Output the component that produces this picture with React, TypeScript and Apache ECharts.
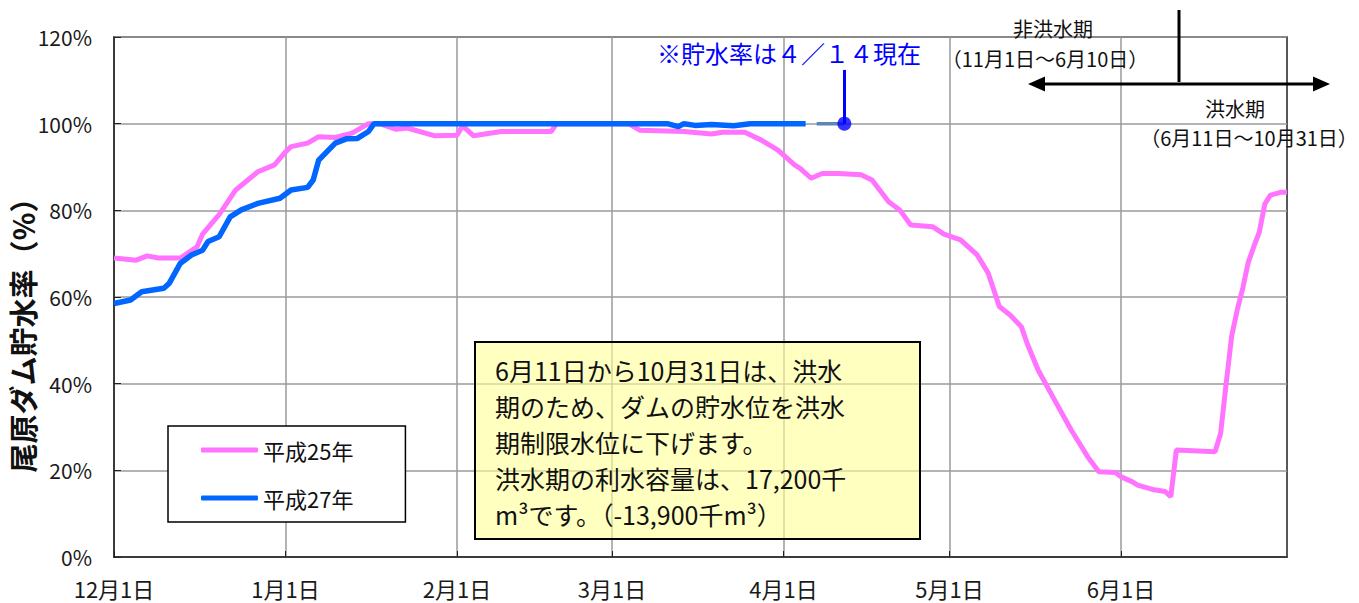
import React, { useEffect, useRef } from "react";
import * as echarts from "echarts";

// Categories: daily from Dec 1 to Jul 1 (non-leap)
const MONTHS: [number, number][] = [[12, 31], [1, 31], [2, 28], [3, 31], [4, 30], [5, 31], [6, 30]];
const categories: string[] = [];
MONTHS.forEach(([m, n]) => {
  for (let d = 1; d <= n; d++) categories.push(`${String(m).padStart(2, "0")}-${String(d).padStart(2, "0")}`);
});
categories.push("07-01");

const yTicks = [0, 20, 40, 60, 80, 100, 120];

// 平成25年 (pink)
const h25: [string, number][] = [
  ["12-01", 69], ["12-05", 68.5], ["12-07", 69.5], ["12-09", 69], ["12-13", 69],
  ["12-16", 71.6], ["12-17", 74.5], ["12-20", 79], ["12-23", 84.7], ["12-27", 88.9],
  ["12-30", 90.5], ["01-01", 93.5], ["01-02", 94.7], ["01-05", 95.5], ["01-07", 97],
  ["01-10", 96.8], ["01-13", 97.8], ["01-16", 100], ["01-18", 100], ["01-21", 98.7],
  ["01-23", 99], ["01-28", 97.2], ["02-01", 97.3], ["02-02", 99.5], ["02-04", 97.2],
  ["02-09", 98.2], ["02-18", 98.2], ["02-19", 100], ["03-04", 100], ["03-06", 98.5],
  ["03-14", 98.2], ["03-19", 97.6], ["03-21", 98], ["03-25", 98], ["03-28", 96.2],
  ["03-31", 93.9], ["04-03", 90.5], ["04-04", 89.7], ["04-06", 87.4], ["04-08", 88.5],
  ["04-11", 88.5], ["04-15", 88.2], ["04-17", 87], ["04-20", 82], ["04-22", 80.1],
  ["04-24", 76.6], ["04-28", 76.2], ["04-30", 74.5], ["05-03", 73.2], ["05-06", 69.7],
  ["05-08", 65.5], ["05-10", 57.8], ["05-12", 55.8], ["05-14", 53.1], ["05-15", 49.4],
  ["05-17", 43.2], ["05-20", 36.2], ["05-23", 29.3], ["05-26", 23.1], ["05-28", 19.7],
  ["05-31", 19.5], ["06-01", 18.5], ["06-03", 17.4], ["06-04", 16.6], ["06-07", 15.5],
  ["06-09", 15.1], ["06-10", 13.9], ["06-11", 24.7], ["06-18", 24.3], ["06-19", 28.5],
  ["06-20", 40], ["06-21", 51], ["06-22", 57], ["06-23", 62], ["06-24", 68],
  ["06-25", 71.6], ["06-26", 75], ["06-27", 81.5], ["06-28", 83.5], ["06-30", 84.2],
  ["07-01", 84.2],
];

// 平成27年 (blue)
const h27: [string, number][] = [
  ["12-01", 58.5], ["12-04", 59.3], ["12-06", 61.2], ["12-10", 62], ["12-11", 63.2],
  ["12-13", 67.8], ["12-15", 69.7], ["12-17", 70.8], ["12-18", 72.8], ["12-20", 73.9],
  ["12-22", 78.5], ["12-24", 80.1], ["12-27", 81.6], ["12-31", 82.8], ["01-02", 84.7],
  ["01-05", 85.3], ["01-06", 87], ["01-07", 91.6], ["01-10", 95.5], ["01-12", 96.5],
  ["01-14", 96.6], ["01-16", 98.2], ["01-17", 100], ["03-11", 100], ["03-13", 99.3],
  ["03-14", 100], ["03-16", 99.6], ["03-19", 99.8], ["03-23", 99.5], ["03-26", 100],
  ["04-05", 100],
];

// connector to current value marker
const current: [string, number][] = [["04-07", 100], ["04-12", 100]];
const currentPoint: [string, number][] = [["04-12", 100]];
const currentLabelTop = 112.4;

const noteLines = [
  "6月11日から10月31日は、洪水",
  "期のため、ダムの貯水位を洪水",
  "期制限水位に下げます。",
  "洪水期の利水容量は、17,200千",
  "m³です。（-13,900千m³）",
];

const FONT = "'Noto Sans CJK JP', 'Noto Sans', sans-serif";

const isMonthStart = (_i: number, v: string) => v.endsWith("-01") && v !== "07-01";
const fmtDate = (v: string) => {
  const [m, d] = v.split("-");
  return `${+m}月${+d}日`;
};

export default function App() {
  const ref = useRef<HTMLDivElement>(null);
  useEffect(() => {
    if (!ref.current) return;
    const chart = echarts.init(ref.current, undefined, { renderer: "svg" });
    chart.setOption({
      animation: false,
      backgroundColor: "#ffffff",
      grid: {
        left: 114, top: 37, right: 72, bottom: 46,
        show: true, borderColor: "#222", borderWidth: 1.5, containLabel: false,
      },
      legend: {
        data: ["平成25年", "平成27年"],
        orient: "vertical",
        left: 168, top: 426,
        padding: [13, 52, 13, 33],
        itemGap: 26,
        itemWidth: 57, itemHeight: 5,
        icon: "roundRect",
        itemTextGap: 6,
        backgroundColor: "#ffffff",
        borderColor: "#000",
        borderWidth: 1.5,
        textStyle: { fontSize: 22, fontFamily: FONT, color: "#111", lineHeight: 20 },
      },
      xAxis: {
        type: "category",
        data: categories,
        boundaryGap: false,
        axisLine: { lineStyle: { color: "#222", width: 1.5 } },
        axisTick: { inside: true, length: 6, interval: isMonthStart, lineStyle: { color: "#222" } },
        axisLabel: {
          interval: isMonthStart, formatter: fmtDate, margin: 20,
          fontSize: 22, fontFamily: FONT, color: "#1a1a1a",
        },
        splitLine: { show: true, interval: isMonthStart, lineStyle: { color: "#9a9a9a", width: 1.5 } },
      },
      yAxis: {
        type: "value",
        min: yTicks[0], max: yTicks[yTicks.length - 1], interval: 20,
        axisLine: { show: true, lineStyle: { color: "#222", width: 1.5 } },
        axisTick: { show: true, inside: true, length: 7, lineStyle: { color: "#222" } },
        axisLabel: { formatter: "{value}%", margin: 22, fontSize: 21, fontFamily: FONT, color: "#1a1a1a" },
        splitLine: { show: true, lineStyle: { color: "#9a9a9a", width: 1.5 } },
      },
      series: [
        {
          name: "平成25年", type: "line", data: h25, symbol: "none",
          lineStyle: { color: "#ff73ff", width: 5 }, itemStyle: { color: "#ff73ff" }, z: 2,
        },
        {
          name: "平成27年", type: "line", data: h27, symbol: "none",
          lineStyle: { color: "#0066ff", width: 5.5 }, itemStyle: { color: "#0066ff" }, z: 3,
        },
        {
          name: "current", type: "line", data: current, symbol: "none",
          lineStyle: { color: "#5b86b5", width: 3.5 }, z: 3,
          markLine: {
            silent: true, symbol: "none", label: { show: false },
            lineStyle: { color: "#0000ff", width: 3, type: "solid" },
            data: [[{ coord: [currentPoint[0][0], currentPoint[0][1]] }, { coord: [currentPoint[0][0], currentLabelTop] }]],
          },
        },
        {
          name: "currentPoint", type: "scatter", data: currentPoint, symbolSize: 14,
          itemStyle: { color: "#0000ff" }, z: 5,
        },
      ],
      graphic: [
        {
          type: "text", left: 657, top: 40, z: 10,
          style: { text: "※貯水率は４／１４現在", fill: "#0000ff", fontSize: 24, fontFamily: FONT },
        },
        {
          type: "text", x: 1053, y: 28, z: 10,
          style: { text: "非洪水期", fill: "#111", fontSize: 20, fontFamily: FONT, align: "center", verticalAlign: "middle" },
        },
        {
          type: "text", x: 1045, y: 58, z: 10,
          style: { text: "（11月1日～6月10日）", fill: "#111", fontSize: 20, fontFamily: FONT, align: "center", verticalAlign: "middle" },
        },
        {
          type: "text", x: 1235, y: 108, z: 10,
          style: { text: "洪水期", fill: "#111", fontSize: 20, fontFamily: FONT, align: "center", verticalAlign: "middle" },
        },
        {
          type: "text", x: 1249, y: 137, z: 10,
          style: { text: "（6月11日～10月31日）", fill: "#111", fontSize: 20, fontFamily: FONT, align: "center", verticalAlign: "middle" },
        },
        { type: "line", z: 10, shape: { x1: 1179, y1: 10, x2: 1179, y2: 82 }, style: { stroke: "#000", lineWidth: 3 } },
        { type: "line", z: 10, shape: { x1: 1040, y1: 84, x2: 1318, y2: 84 }, style: { stroke: "#000", lineWidth: 3 } },
        { type: "polygon", z: 10, shape: { points: [[1028, 84], [1045, 76.5], [1045, 91.5]] }, style: { fill: "#000" } },
        { type: "polygon", z: 10, shape: { points: [[1330, 84], [1313, 76.5], [1313, 91.5]] }, style: { fill: "#000" } },
        {
          type: "rect", z: 10, shape: { x: 475, y: 342, width: 445, height: 197 },
          style: { fill: "rgba(255,255,150,0.6)", stroke: "#000", lineWidth: 2 },
        },
        ...noteLines.map((t, i) => ({
          type: "text", z: 11, x: 495, y: 370 + i * 36,
          style: { text: t, fill: "#111", fontSize: 25, fontFamily: FONT, verticalAlign: "middle" },
        })),
        {
          type: "text", z: 10, x: 22, y: 328, rotation: Math.PI / 2,
          style: {
            text: "尾原ダム貯水率（%）", fill: "#111", fontSize: 29, fontWeight: "bold",
            fontFamily: FONT, align: "center", verticalAlign: "middle",
          },
        },
      ],
    });
    return () => chart.dispose();
  }, []);
  return (
    <div
      ref={ref}
      style={{ position: "fixed", left: 0, top: 0, width: 1359, height: 603, background: "#fff" }}
    />
  );
}
